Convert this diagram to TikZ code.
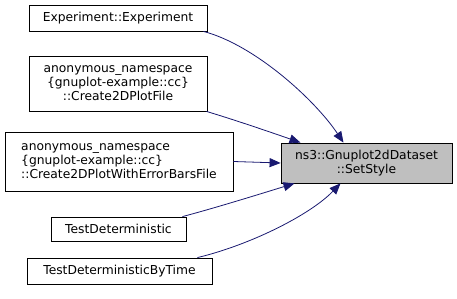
\documentclass[tikz,border=0pt]{standalone}
\usepackage{fontspec}
\setmainfont{DejaVu Sans}
\usetikzlibrary{arrows.meta}
\definecolor{edgeblue}{HTML}{191970}
\definecolor{focusgray}{HTML}{BFBFBF}
\begin{document}
\begin{tikzpicture}[x=1pt,y=-1pt,
  box/.style={draw=black,line width=0.8pt,fill=white,inner sep=0pt,
    font=\fontsize{12.3}{14}\selectfont},
  call/.style={draw=edgeblue,line width=0.8pt,
    -{Triangle[length=11pt,width=9pt]}}]
\useasboundingbox (0,0) rectangle (457,299);
\node[box,minimum width=178pt,minimum height=26pt] (exp) at (118,18) {Experiment::Experiment};
\node[box,minimum width=178pt,minimum height=55pt,align=center] (c2d) at (118,83.5)
  {anonymous\_namespace\\\{gnuplot-example::cc\}\\::Create2DPlotFile};
\node[box,minimum width=228pt,minimum height=59pt,align=left] (c2e) at (119,161.5)
  {anonymous\_namespace\\\{gnuplot-example::cc\}\\::Create2DPlotWithErrorBarsFile};
\node[box,minimum width=135pt,minimum height=24pt] (td) at (118.5,229) {TestDeterministic};
\node[box,minimum width=185pt,minimum height=26pt] (tdt) at (119.5,271) {TestDeterministicByTime};
\node[box,fill=focusgray,minimum width=171pt,minimum height=40pt,align=center] (tgt) at (366.5,163)
  {ns3::Gnuplot2dDataset\\::SetStyle};
% callers pointing into SetStyle
\draw[call] ([xshift=-4pt]exp.south east) .. controls (255,45) and (315,100) .. ([xshift=-23pt]tgt.north);
\draw[call] ([xshift=-1pt]c2d.south east) .. controls (235,120) and (270,132) .. ([xshift=-66pt]tgt.north);
\draw[call] (c2e.east) -- (tgt.west);
\draw[call] ([xshift=-4pt]td.north east) .. controls (215,208) and (260,194) .. ([xshift=-72pt]tgt.south);
\draw[call] ([xshift=-15pt]tdt.north east) .. controls (250,245) and (310,215) .. ([xshift=-26pt]tgt.south);
\end{tikzpicture}
\end{document}
